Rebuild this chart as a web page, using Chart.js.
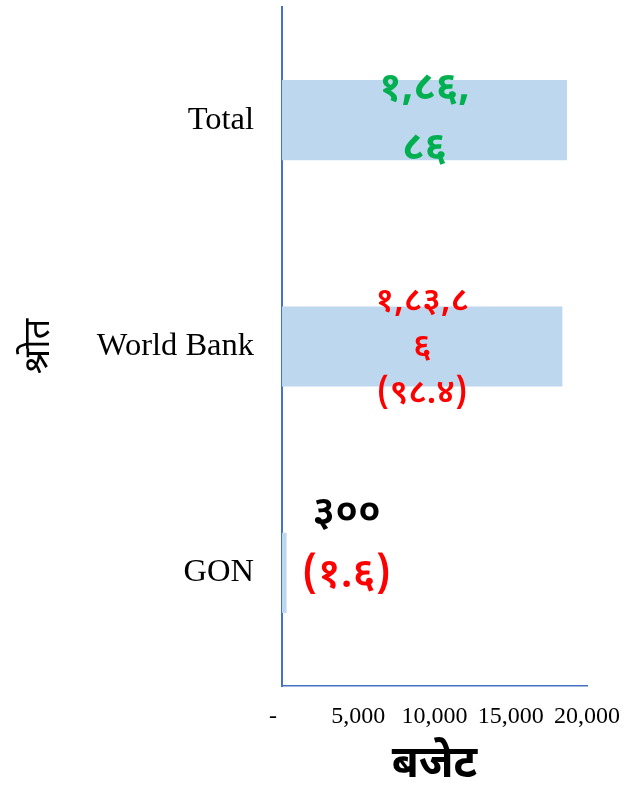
<!DOCTYPE html>
<html>
<head>
<meta charset="utf-8">
<script src="https://cdn.jsdelivr.net/npm/chart.js@4"></script>
<style>
  html, body { margin: 0; padding: 0; background: #fff; }
  #wrap { width: 625px; height: 795px; position: relative; }
</style>
</head>
<body>
<div id="wrap"><canvas id="chart"></canvas></div>
<script>
// categories (top to bottom) and values
const categories = ["Total", "World Bank", "GON"];
const budget = [18686, 18386, 300];
const xTicks = [0, 5000, 10000, 15000, 20000];

// data labels as they appear (wrapped), one list of lines per bar
const labelLines = [
  ["१,८६,", "८६"],
  ["१,८३,८", "६", "(९८.४)"],
  ["३००", "(१.६)"]
];
const labelColors = [
  ["#00B050", "#00B050"],
  ["#FF0000", "#FF0000", "#FF0000"],
  ["#000000", "#FF0000"]
];

const devFont = "'Noto Sans Devanagari', 'Noto Sans', 'Lohit Devanagari', sans-serif";

const barLabels = {
  id: "barLabels",
  afterDatasetsDraw(chart) {
    const ctx = chart.ctx;
    const meta = chart.getDatasetMeta(0);
    const area = chart.chartArea;
    meta.data.forEach((bar, i) => {
      const lines = labelLines[i];
      const short = bar.x - area.left < 60;
      const cx = short ? bar.x + 60 : (area.left + bar.x) / 2;
      let size = 34, lh = 46, shift = 4, weight = "600";
      if (i === 0) { size = 40; lh = 60; shift = 2; weight = "bold"; }
      if (i === 2) { size = 42; lh = 62; shift = -25; }
      const top = bar.y + shift - (lines.length - 1) * lh / 2;
      ctx.save();
      ctx.textAlign = "center";
      ctx.textBaseline = "middle";
      ctx.font = `${weight} ${size}px ${devFont}`;
      lines.forEach((t, k) => {
        ctx.fillStyle = labelColors[i][k];
        ctx.fillText(t, cx, top + k * lh);
      });
      ctx.restore();
    });
  }
};

new Chart(document.getElementById("chart"), {
  type: "bar",
  data: {
    labels: categories,
    datasets: [{
      data: budget,
      backgroundColor: "#BDD7EE",
      borderWidth: 0,
      categoryPercentage: 1,
      barPercentage: 0.354
    }]
  },
  options: {
    indexAxis: "y",
    responsive: true,
    maintainAspectRatio: false,
    animation: false,
    layout: { padding: { top: 7, right: 38, left: 0, bottom: 0 } },
    plugins: {
      legend: { display: false },
      tooltip: { enabled: false }
    },
    scales: {
      x: {
        min: 0,
        max: 20000,
        afterBuildTicks: (s) => { s.ticks = xTicks.map(v => ({ value: v })); },
        grid: { display: false, drawTicks: false },
        border: { color: "#4472C4", width: 1.5 },
        ticks: {
          padding: 16,
          color: "#000",
          maxRotation: 0,
          font: { family: "'Liberation Serif', 'Times New Roman', serif", size: 24 },
          callback: (v) => v === 0 ? "-   " : v.toLocaleString("en-US")
        },
        title: {
          display: true,
          text: "बजेट",
          color: "#000",
          font: { family: devFont, size: 44, weight: "bold" },
          padding: { top: 4, bottom: 0 }
        },
        afterFit: (s) => { s.height = 109; s.paddingLeft = 0; s.paddingRight = 0; }
      },
      y: {
        grid: { display: false, drawTicks: false },
        border: { color: "#4472C4", width: 2 },
        ticks: {
          padding: 28,
          color: "#000",
          font: { family: "'Liberation Serif', 'Times New Roman', serif", size: 32.5 }
        },
        title: {
          display: true,
          text: "श्रोत",
          color: "#000",
          font: { family: devFont, size: 36, weight: "normal" },
          padding: { top: 21, bottom: 0 }
        },
        afterFit: (s) => { s.width = 282; s.paddingTop = 0; s.paddingBottom = 0; }
      }
    }
  },
  plugins: [barLabels]
});
</script>
</body>
</html>
